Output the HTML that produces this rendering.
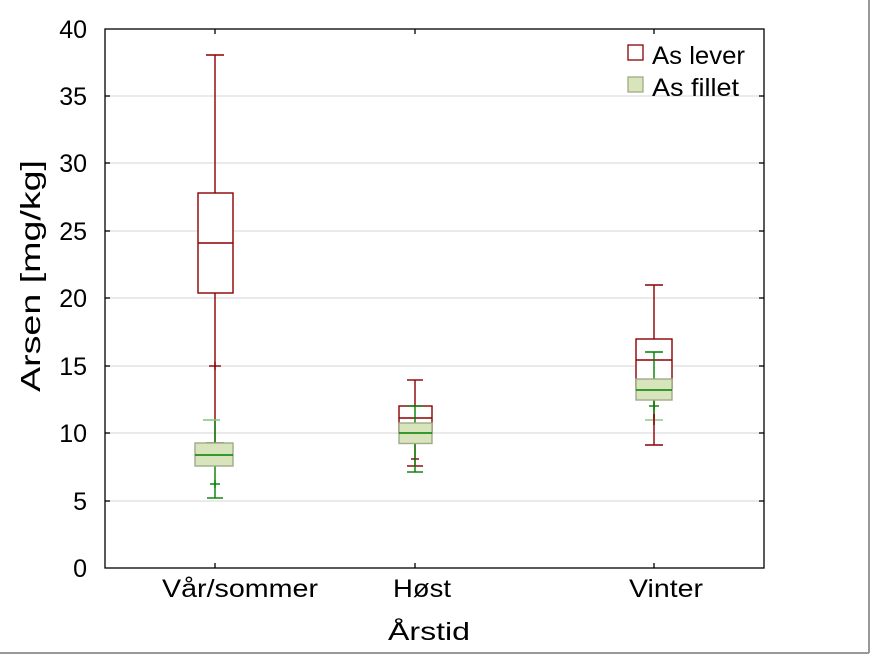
<!DOCTYPE html>
<html><head><meta charset="utf-8"><style>html,body{margin:0;padding:0;background:#fff}svg{display:block}</style></head><body>
<svg width="871" height="655" viewBox="0 0 871 655" xmlns="http://www.w3.org/2000/svg" font-family="'Liberation Sans',sans-serif">
<rect x="0" y="0" width="871" height="655" fill="#fff"/>
<line x1="869" y1="0" x2="869" y2="653" stroke="#999" stroke-width="2"/>
<line x1="0" y1="653" x2="869" y2="653" stroke="#999" stroke-width="2"/>
<g stroke="#ddd" stroke-width="1.3">
<line x1="105" y1="501" x2="764" y2="501"/><line x1="105" y1="433" x2="764" y2="433"/><line x1="105" y1="366" x2="764" y2="366"/><line x1="105" y1="298" x2="764" y2="298"/><line x1="105" y1="231" x2="764" y2="231"/><line x1="105" y1="163" x2="764" y2="163"/><line x1="105" y1="96" x2="764" y2="96"/>
</g>
<rect x="105" y="29" width="659" height="539" fill="none" stroke="#000" stroke-width="1.3"/>
<g stroke="#000" stroke-width="1.3">
<line x1="105" y1="501" x2="110" y2="501"/><line x1="105" y1="433" x2="110" y2="433"/><line x1="105" y1="366" x2="110" y2="366"/><line x1="105" y1="298" x2="110" y2="298"/><line x1="105" y1="231" x2="110" y2="231"/><line x1="105" y1="163" x2="110" y2="163"/><line x1="105" y1="96" x2="110" y2="96"/>
<line x1="764" y1="501" x2="759" y2="501"/><line x1="764" y1="433" x2="759" y2="433"/><line x1="764" y1="366" x2="759" y2="366"/><line x1="764" y1="298" x2="759" y2="298"/><line x1="764" y1="231" x2="759" y2="231"/><line x1="764" y1="163" x2="759" y2="163"/><line x1="764" y1="96" x2="759" y2="96"/>
<line x1="215" y1="29" x2="215" y2="34"/><line x1="415" y1="29" x2="415" y2="34"/><line x1="654" y1="29" x2="654" y2="34"/>
<line x1="215" y1="568" x2="215" y2="563"/><line x1="415" y1="568" x2="415" y2="563"/><line x1="654" y1="568" x2="654" y2="563"/>
</g>
<g font-size="25" fill="#000" text-anchor="end">
<text x="87" y="577">0</text><text x="87" y="510">5</text><text x="87" y="442">10</text><text x="87" y="375">15</text><text x="87" y="307">20</text><text x="87" y="240">25</text><text x="87" y="172">30</text><text x="87" y="105">35</text><text x="87" y="38">40</text>
</g>
<g font-size="25" fill="#000">
<text x="162" y="597" textLength="156" lengthAdjust="spacingAndGlyphs">Vår/sommer</text>
<text x="393" y="597" textLength="58" lengthAdjust="spacingAndGlyphs">Høst</text>
<text x="629" y="597" textLength="74" lengthAdjust="spacingAndGlyphs">Vinter</text>
<text x="388" y="640" textLength="82" lengthAdjust="spacingAndGlyphs">Årstid</text>
</g>
<text transform="translate(40,392) rotate(-90)" font-size="28" textLength="232" lengthAdjust="spacingAndGlyphs">Arsen [mg/kg]</text>
<g stroke="#8b0000" stroke-width="1.4" fill="none">
<line x1="215" y1="55" x2="215" y2="443"/><line x1="206" y1="55" x2="224" y2="55"/>
<rect x="198" y="193" width="35" height="100" fill="#fff"/><line x1="198" y1="243" x2="233" y2="243"/>
<line x1="206" y1="443" x2="224" y2="443"/><line x1="209" y1="366" x2="221" y2="366"/><line x1="215" y1="362" x2="215" y2="370"/>
<line x1="415" y1="380" x2="415" y2="466"/><line x1="407" y1="380" x2="423" y2="380"/>
<rect x="399" y="406" width="33" height="27" fill="#fff"/><line x1="399" y1="418" x2="432" y2="418"/>
<line x1="411" y1="459" x2="419" y2="459"/><line x1="407" y1="466" x2="423" y2="466"/>
<line x1="654" y1="285" x2="654" y2="445"/><line x1="645" y1="285" x2="663" y2="285"/><line x1="645" y1="445" x2="663" y2="445"/>
<rect x="636" y="339" width="36" height="50" fill="#fff"/><line x1="636" y1="360" x2="672" y2="360"/>
</g>
<g stroke="#008000" stroke-width="1.4">
<line x1="215" y1="420" x2="215" y2="498"/><line x1="203" y1="420" x2="220" y2="420" stroke="#7c7"/><line x1="207" y1="498" x2="223" y2="498"/>
<rect x="195" y="443" width="38" height="23" fill="#d8e4bc" stroke="#a0aa88"/><line x1="195" y1="455" x2="233" y2="455"/>
<line x1="210" y1="484" x2="220" y2="484"/><line x1="215" y1="480" x2="215" y2="488"/>
<line x1="415" y1="406" x2="415" y2="472"/><line x1="407" y1="406" x2="423" y2="406"/><line x1="407" y1="472" x2="423" y2="472"/>
<rect x="399" y="423" width="33" height="20.5" fill="#d8e4bc" stroke="#a0aa88"/><line x1="399" y1="433" x2="432" y2="433"/>
<line x1="654" y1="352" x2="654" y2="420"/><line x1="645" y1="352" x2="663" y2="352"/>
<rect x="636" y="379" width="36" height="21" fill="#d8e4bc" stroke="#a0aa88"/><line x1="636" y1="390" x2="672" y2="390"/>
<line x1="649" y1="406" x2="659" y2="406"/><line x1="654" y1="401" x2="654" y2="410"/>
<line x1="645" y1="420" x2="663" y2="420" stroke="#8c8"/>
</g>
<g stroke="#8b0000" stroke-width="1.6"><line x1="654" y1="414" x2="654" y2="425"/></g>
<rect x="628" y="45" width="15" height="15" fill="#fff" stroke="#8b0000" stroke-width="1.3"/>
<rect x="628" y="77" width="15" height="15" fill="#d8e4bc" stroke="#a0aa88" stroke-width="1.3"/>
<text x="652" y="64" font-size="25" textLength="93" lengthAdjust="spacingAndGlyphs">As lever</text>
<text x="652" y="96" font-size="25" textLength="87" lengthAdjust="spacingAndGlyphs">As fillet</text>
</svg>
</body></html>
